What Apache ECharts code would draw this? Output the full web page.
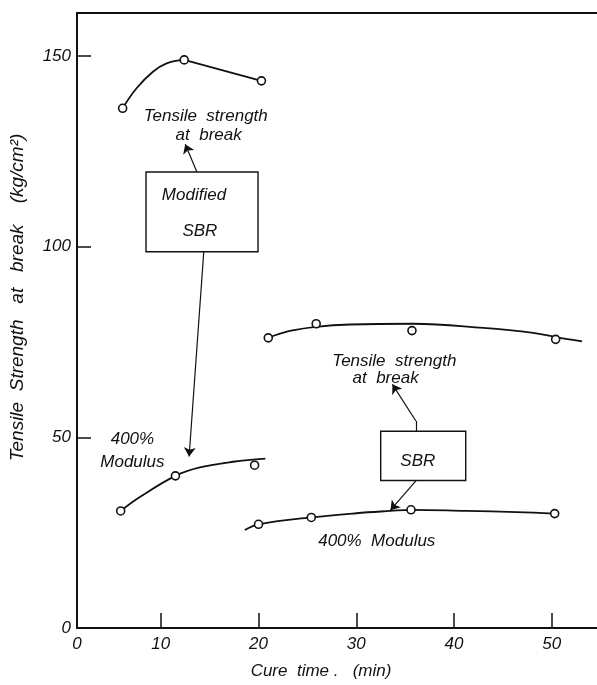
<!DOCTYPE html>
<html>
<head>
<meta charset="utf-8">
<script src="https://cdn.jsdelivr.net/npm/echarts@6/dist/echarts.min.js"></script>
<style>html,body{margin:0;padding:0;background:#fff;}#c{width:597px;height:685px;}</style>
</head>
<body>
<div id="c"></div>
<script>
// ---- data ----
var xTickValues = [10, 20, 30, 40, 50];
var yTickValues = [50, 100, 150];
var yLabelValues = [0, 50, 100, 150];

// measured points (open circles)
var modTensilePts = [[6.1, 136.3], [12.4, 149.0], [20.3, 143.5]];
var modModulusPts = [[5.9, 30.7], [11.5, 39.9], [19.6, 42.7]];
var sbrTensilePts = [[21.0, 76.1], [25.9, 79.8], [35.7, 78.0], [50.4, 75.7]];
var sbrModulusPts = [[20.0, 27.2], [25.4, 29.0], [35.6, 31.0], [50.3, 30.0]];

// hand-drawn fitted curves
var modTensileCurve = [[6.1, 136.3], [7.5, 141.5], [9.2, 145.9], [10.6, 148.1], [12.4, 149.0]];
var modTensileStraight = [[12.4, 149.0], [20.3, 143.5]];
var modModulusCurve = [[5.9, 30.7], [7.9, 34.4], [11.5, 39.9], [14.0, 42.1], [17.4, 43.6], [20.7, 44.4]];
var sbrTensileCurve = [[21.0, 76.1], [23.2, 77.9], [25.9, 79.0], [29.4, 79.6], [35.8, 79.8], [43.0, 78.7], [48.1, 77.4], [50.4, 76.3], [53.1, 75.2]];
var sbrModulusCurve = [[18.6, 25.7], [20.0, 27.2], [25.4, 29.0], [30.0, 30.1], [33.5, 30.7], [35.6, 31.0], [41.3, 30.7], [46.4, 30.4], [50.3, 30.0]];

// annotation texts (data coordinates)
var annotations = [
  { text: 'Tensile  strength', at: [14.6, 134.2] },
  { text: 'at  break', at: [14.9, 129.3] },
  { text: 'Modified', at: [13.4, 113.6] },
  { text: 'SBR', at: [14.0, 104.0] },
  { text: '400%', at: [7.1, 49.5] },
  { text: 'Modulus', at: [7.1, 43.5] },
  { text: 'Tensile  strength', at: [33.9, 69.9] },
  { text: 'at  break', at: [33.0, 65.4] },
  { text: 'SBR', at: [36.3, 43.8] },
  { text: '400%  Modulus', at: [32.1, 22.8] }
];
var boxes = [
  [[8.49, 119.6], [19.95, 98.7]],
  [[32.5, 51.6], [41.2, 38.7]]
];
var arrows = [
  [[13.7, 119.6], [12.5, 126.9]],
  [[14.4, 98.7], [12.9, 45.0]],
  [[36.1, 54.3], [33.7, 63.9]],
  [[36.1, 38.6], [33.5, 30.9]]
];
var leaders = [
  [[36.1, 51.6], [36.1, 54.3]]
];

var xMin = 1.43, xMax = 54.63, yMin = 0, yMax = 161.3;
var FONT = 'Liberation Sans';
var INK = '#111';

var chart = echarts.init(document.getElementById('c'), null, { renderer: 'canvas' });

function curve(data, smooth) {
  return { type: 'line', data: data, smooth: smooth, showSymbol: false, symbol: 'none',
    lineStyle: { color: INK, width: 1.8 }, z: 3, silent: true };
}
function pts(data) {
  return { type: 'scatter', data: data, symbol: 'circle', symbolSize: 8,
    itemStyle: { color: '#fff', borderColor: INK, borderWidth: 1.6, opacity: 1 }, z: 5, silent: true };
}

var option = {
  backgroundColor: '#fff',
  animation: false,
  grid: { left: 77, right: 0, top: 13, bottom: 56, containLabel: false },
  xAxis: [{
    type: 'value', min: xMin, max: xMax,
    name: 'Cure  time .   (min)', nameLocation: 'middle', nameGap: 35,
    nameTextStyle: { fontFamily: FONT, fontStyle: 'italic', fontSize: 17, color: INK, padding: [0, 32, 0, 0] },
    axisLine: { show: true, lineStyle: { color: INK, width: 2 } },
    axisTick: { show: true, inside: true, length: 15, customValues: xTickValues, lineStyle: { color: INK, width: 1.5 } },
    axisLabel: { show: true, customValues: [xMin].concat(xTickValues), margin: 8,
      fontFamily: FONT, fontStyle: 'italic', fontSize: 17, color: INK,
      formatter: function (v) { return v < 5 ? '0' : String(Math.round(v)); } },
    splitLine: { show: false }
  }, {
    type: 'value', position: 'top', min: xMin, max: xMax,
    axisLine: { show: true, lineStyle: { color: INK, width: 2 } },
    axisTick: { show: false }, axisLabel: { show: false }, splitLine: { show: false }
  }],
  yAxis: {
    type: 'value', min: yMin, max: yMax,
    name: 'Tensile  Strength   at   break    (kg/cm²)', nameLocation: 'middle', nameGap: 50, nameRotate: 90,
    nameTextStyle: { fontFamily: FONT, fontStyle: 'italic', fontSize: 19, color: INK, padding: [0, 0, 0, 46] },
    axisLine: { show: true, lineStyle: { color: INK, width: 2 } },
    axisTick: { show: true, inside: true, length: 14, customValues: yTickValues, lineStyle: { color: INK, width: 1.5 } },
    axisLabel: { show: true, customValues: yLabelValues, margin: 6,
      fontFamily: FONT, fontStyle: 'italic', fontSize: 17, color: INK,
      formatter: function (v) { return yLabelValues.indexOf(v) >= 0 ? String(v) : ''; } },
    splitLine: { show: false }
  },
  series: [
    // boxes
    { type: 'line', data: [], silent: true, z: 1,
      markArea: { silent: true,
        itemStyle: { color: '#fff', borderColor: INK, borderWidth: 1.4, opacity: 1 },
        data: boxes.map(function (b) { return [{ coord: b[0] }, { coord: b[1] }]; }) } },
    curve(modTensileCurve, 0.4),
    curve(modTensileStraight, false),
    curve(modModulusCurve, 0.4),
    curve(sbrTensileCurve, 0.4),
    curve(sbrModulusCurve, 0.4),
    pts(modTensilePts), pts(modModulusPts), pts(sbrTensilePts), pts(sbrModulusPts),
    // arrows
    { type: 'lines', coordinateSystem: 'cartesian2d', silent: true, z: 4,
      symbol: ['none', 'arrow'], symbolSize: 9,
      lineStyle: { color: INK, width: 1.2, opacity: 1, curveness: 0 },
      data: arrows.map(function (a) { return { coords: a }; }) },
    { type: 'lines', coordinateSystem: 'cartesian2d', silent: true, z: 4,
      symbol: ['none', 'none'],
      lineStyle: { color: INK, width: 1.2, opacity: 1, curveness: 0 },
      data: leaders.map(function (a) { return { coords: a }; }) },
    // texts
    { type: 'scatter', silent: true, z: 6, symbol: 'circle', symbolSize: 1,
      itemStyle: { color: 'transparent', opacity: 1 },
      label: { show: true, position: 'inside', fontFamily: FONT, fontStyle: 'italic', fontSize: 17, color: INK, opacity: 1,
        formatter: function (p) { return p.data.name; } },
      data: annotations.map(function (a) { return { name: a.text, value: a.at }; }) }
  ]
};
chart.setOption(option);
</script>
</body>
</html>
